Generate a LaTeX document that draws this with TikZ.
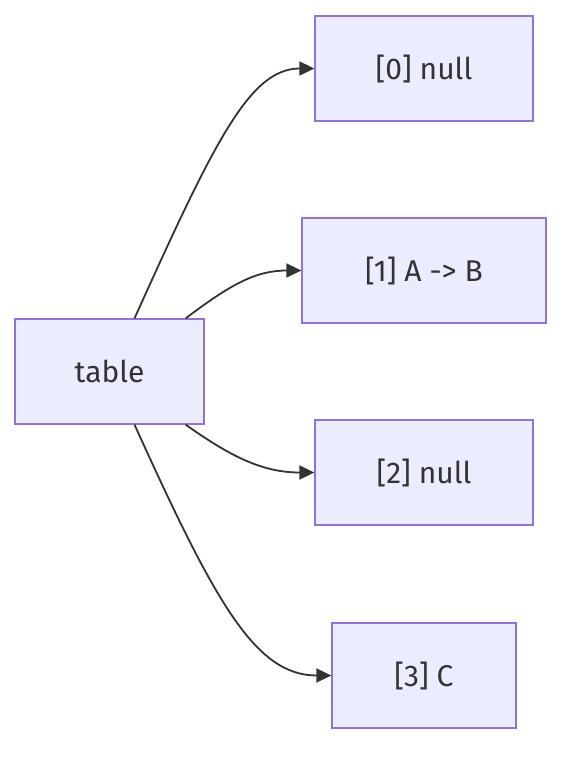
\documentclass[tikz,border=0pt]{standalone}
\usepackage{fontspec}
\setmainfont{Fira Sans}
\usetikzlibrary{arrows.meta}
\definecolor{boxfill}{HTML}{ECECFF}
\definecolor{boxline}{HTML}{9370DB}
\definecolor{ink}{HTML}{333333}
\begin{document}
\begin{tikzpicture}[x=1pt,y=-1pt,
  box/.style = {draw=boxline, line width=1.3pt, fill=boxfill, rectangle, minimum height=105pt, text=ink, font=\fontsize{30}{36}\selectfont},
  link/.style = {draw=ink, line width=1.8pt, -{Triangle[length=15pt,width=14pt]}}]
\useasboundingbox (0,0) rectangle (578,764);

\node[box, minimum width=189pt](table) at (109.5,371.5) {table};
\node[box, minimum width=218pt](n0) at (424,68.5) {[0] null};
\node[box, minimum width=244pt](n1) at (424,270.5) {[1] A -> B};
\node[box, minimum width=218pt](n2) at (424,472.5) {[2] null};
\node[box, minimum width=184pt](n3) at (424,675.5) {[3] C};

\draw[link] ([xshift=25pt]table.north) .. controls (215,140) and (250,68.5) .. (n0.west);
\draw[link] ([xshift=-19pt]table.north east) .. controls (230,285) and (255,270.5) .. (n1.west);
\draw[link] ([xshift=-19pt]table.south east) .. controls (230,456) and (262,472.5) .. (n2.west);
\draw[link] ([xshift=25pt]table.south) .. controls (215,602) and (255,675.5) .. (n3.west);
\end{tikzpicture}
\end{document}
